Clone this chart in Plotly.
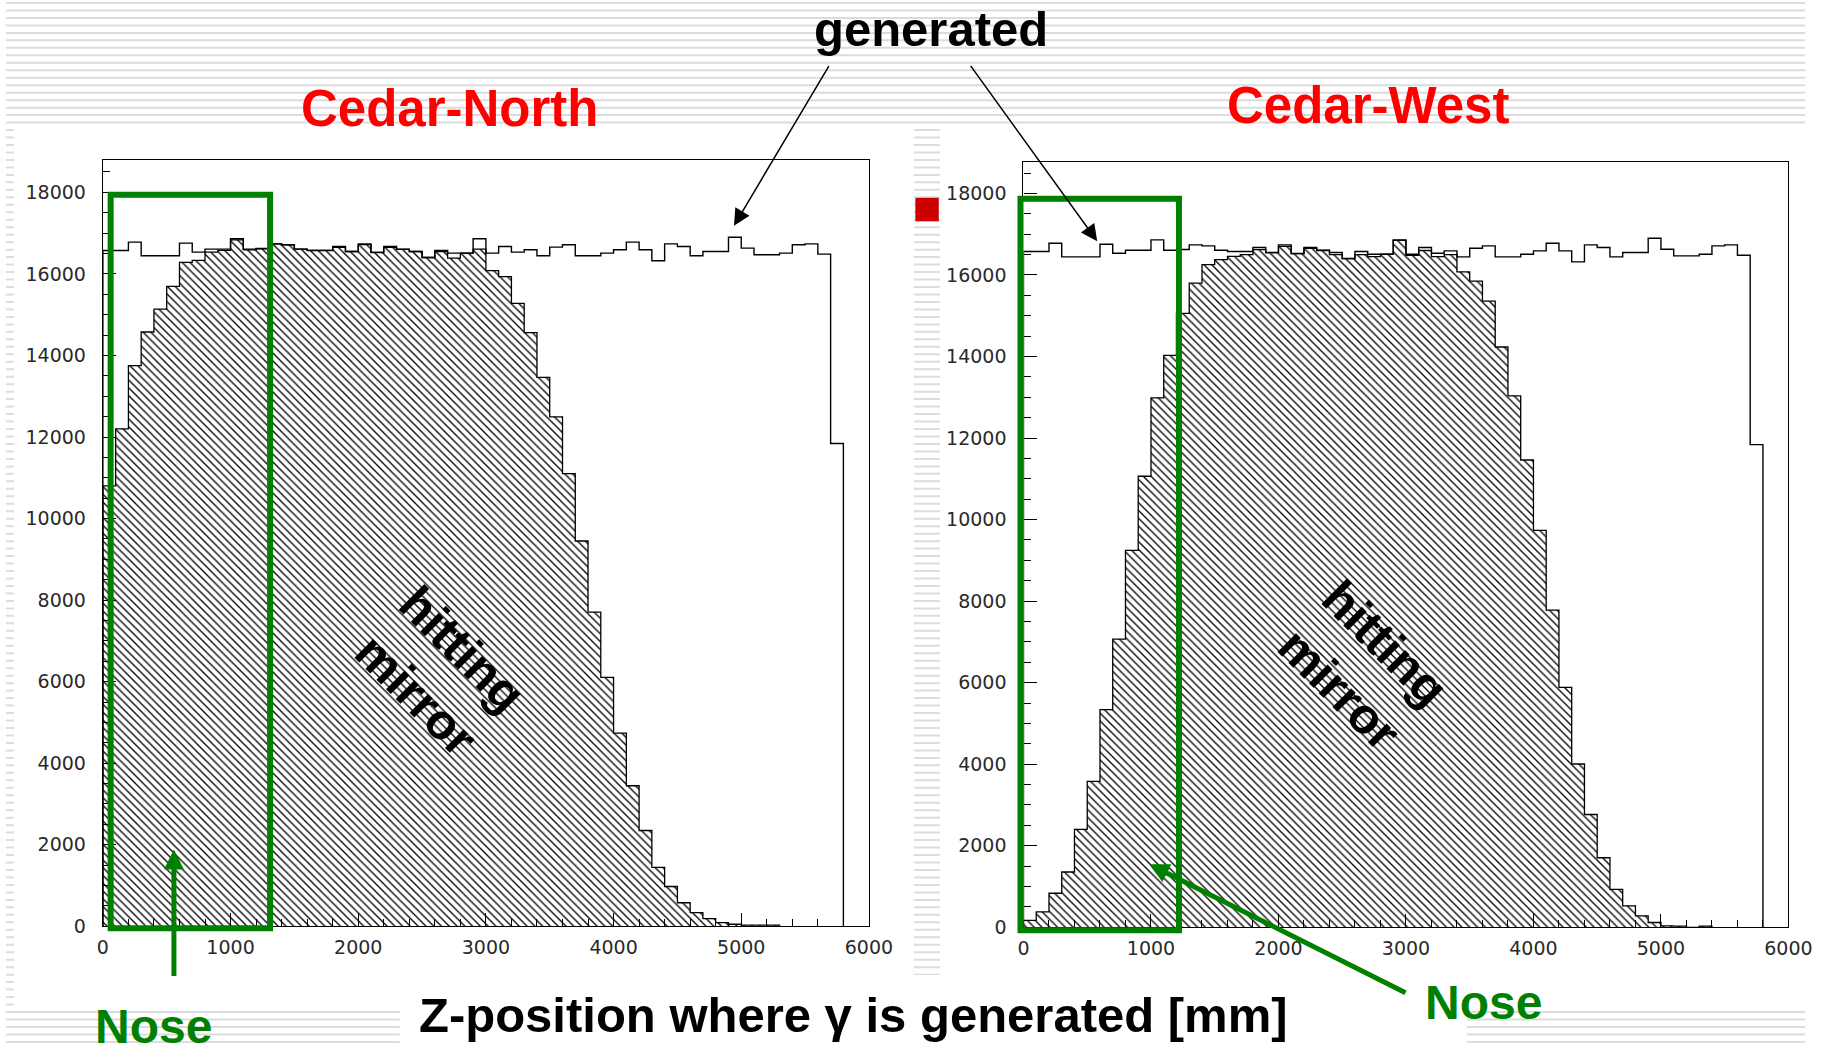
import plotly.graph_objects as go

# ---------------- data (counts per 100 mm bin, starting at z = 0) ----------------
bin_width = 100
generated_counts = [16575, 16575, 16779, 16444, 16444, 16444, 16755, 16534, 16608, 16608,
                    16861, 16608, 16624, 16738, 16714, 16608, 16575, 16575, 16673, 16550,
                    16738, 16526, 16673, 16608, 16550, 16403, 16575, 16510, 16510, 16861,
                    16510, 16673, 16534, 16591, 16444, 16657, 16714, 16444, 16444, 16510,
                    16591, 16779, 16591, 16322, 16738, 16673, 16444, 16550, 16550, 16901,
                    16632, 16469, 16469, 16510, 16714, 16738, 16485, 11840]
north_mirror_counts = [10800, 12200, 13750, 14576, 15138, 15693, 16281, 16330, 16534, 16575,
                       16836, 16591, 16616, 16738, 16714, 16608, 16575, 16575, 16650, 16550,
                       16720, 16526, 16650, 16600, 16550, 16403, 16550, 16387, 16510, 16608,
                       16080, 15934, 15276, 14560, 13465, 12494, 11103, 9450, 7707, 6106,
                       4740, 3447, 2350, 1447, 976, 577, 333, 187, 90, 50,
                       30, 30, 30]
west_mirror_counts = [170, 380, 835, 1356, 2400, 3580, 5340, 7070, 9245, 11063,
                      12986, 14029, 15056, 15798, 16254, 16376, 16458, 16499, 16620, 16550,
                      16700, 16526, 16650, 16600, 16500, 16403, 16500, 16450, 16510, 16850,
                      16480, 16600, 16450, 16500, 16075, 15847, 15358, 14233, 13035, 11462,
                      9734, 7778, 5887, 4005, 2766, 1706, 932, 525, 280, 117,
                      35, 30, 0, 30]
x_ticks = [0, 1000, 2000, 3000, 4000, 5000, 6000]
y_ticks = [0, 2000, 4000, 6000, 8000, 10000, 12000, 14000, 16000, 18000]

# layout designed in 1829x1055 picture pixels; small correction for how the page is captured
W, H = 1829, 1055
SX, OX = 0.987, 2.0
SY, OY = 0.993, -0.5


def fx(x):
    return (x - OX) / SX


def fy(y):
    return (y - OY) / SY


def px(x):
    return fx(x) / W


def py(y):
    return 1 - fy(y) / H


def step_xy(counts):
    edges = [i * bin_width for i in range(len(counts) + 1)]
    xs = [edges[0]] + edges[:-1] + [edges[-1], edges[-1]]
    ys = [0] + list(counts) + [counts[-1], 0]
    return xs, ys


fig = go.Figure()

panels = [("x", "y", north_mirror_counts), ("x2", "y2", west_mirror_counts)]
for xa, ya, mirror in panels:
    mx, my = step_xy(mirror)
    fig.add_trace(go.Scatter(
        x=mx, y=my, xaxis=xa, yaxis=ya, mode="lines", line_shape="hv",
        line=dict(color="black", width=1.3), fill="tozeroy",
        fillcolor="rgba(0,0,0,0)",
        fillpattern=dict(shape="\\", size=5.5, solidity=0.24, fgcolor="black",
                         bgcolor="white", fillmode="replace"),
        hoverinfo="skip", showlegend=False))
    gx, gy = step_xy(generated_counts)
    fig.add_trace(go.Scatter(
        x=gx, y=gy, xaxis=xa, yaxis=ya, mode="lines", line_shape="hv",
        line=dict(color="black", width=1.4), hoverinfo="skip", showlegend=False))

tickfont = dict(family="DejaVu Sans", size=19, color="#2a2a2a")
xcommon = dict(range=[0, 6000], tickvals=x_ticks, ticktext=[str(v) for v in x_ticks],
               ticks="inside", ticklen=13, tickwidth=1, tickcolor="black",
               minor=dict(dtick=200, tick0=0, ticks="inside", ticklen=7, tickcolor="black"),
               showline=True, linecolor="black", linewidth=1.3, mirror=True,
               showgrid=False, zeroline=False, tickfont=tickfont, ticklabelstandoff=4)
ycommon = dict(tickvals=y_ticks, ticktext=[str(v) for v in y_ticks],
               ticks="inside", ticklen=13, tickwidth=1, tickcolor="black",
               minor=dict(dtick=500, tick0=0, ticks="inside", ticklen=7, tickcolor="black"),
               showline=True, linecolor="black", linewidth=1.3, mirror=True,
               showgrid=False, zeroline=False, tickfont=tickfont, ticklabelstandoff=12)

fig.update_layout(
    width=W, height=H, margin=dict(l=0, r=0, t=0, b=0, pad=0),
    paper_bgcolor="white", plot_bgcolor="rgba(0,0,0,0)",
    xaxis=dict(domain=[px(99.2), px(867.9)], anchor="y", **xcommon),
    yaxis=dict(domain=[py(929), py(159.8)], anchor="x", range=[0, 18800], **ycommon),
    xaxis2=dict(domain=[px(1023), px(1790.6)], anchor="y2", **xcommon),
    yaxis2=dict(domain=[py(930), py(162.1)], anchor="x2", range=[0, 18770], **ycommon),
)

# ---------------- slide background: grey stripes with white picture areas ----------------
stripe_ys = [2.5 + 7.5 * k for k in range(142) if 0 <= py(2.5 + 7.5 * k) <= 1]
stripe_path = "".join(f"M0,{py(s)} L1,{py(s)} " for s in stripe_ys)
shapes = [dict(type="path", path=stripe_path, xref="paper", yref="paper",
               line=dict(color="#dcdcdc", width=2), layer="below")]
for (x0, y0, x1, y1) in [(10, 128, 913, 1011), (939, 128, 1829, 1014), (397, 978, 1468, 1055)]:
    shapes.append(dict(type="rect", xref="paper", yref="paper", x0=px(x0), x1=min(px(x1), 1.0),
                       y0=max(py(y1), 0.0), y1=py(y0), fillcolor="white", line=dict(width=0),
                       layer="below"))
# red bullet square
shapes.append(dict(type="rect", xref="paper", yref="paper", x0=px(914.5), x1=px(938),
                   y0=py(221.6), y1=py(198), fillcolor="#cc0000", line=dict(width=0)))
# green "Nose" boxes
for (x0, y0, x1, y1) in [(107, 195, 267, 931), (1020, 199, 1179, 933)]:
    shapes.append(dict(type="rect", xref="paper", yref="paper", x0=px(x0), x1=px(x1),
                       y0=py(y1), y1=py(y0), line=dict(color="#008000", width=6),
                       fillcolor="rgba(0,0,0,0)"))
fig.update_layout(shapes=shapes)

bold = "Liberation Sans"
annotations = [
    dict(text="generated", x=px(930), y=py(29), font=dict(family=bold, size=49, color="black", weight="bold")),
    dict(text="Cedar-North", x=px(448), y=py(108), font=dict(family=bold, size=51, color="#ff0000", weight="bold")),
    dict(text="Cedar-West", x=px(1369), y=py(105), font=dict(family=bold, size=51, color="#ff0000", weight="bold")),
    dict(text="hitting<br>mirror", x=px(437), y=py(674), textangle=45,
         font=dict(family=bold, size=50, color="black", weight="bold")),
    dict(text="hitting<br>mirror", x=px(1363), y=py(668), textangle=45,
         font=dict(family=bold, size=50, color="black", weight="bold")),
    dict(text="Nose", x=px(150), y=py(1030), font=dict(family=bold, size=48, color="#008000", weight="bold")),
    dict(text="Nose", x=px(1485), y=py(1005), font=dict(family=bold, size=48, color="#008000", weight="bold")),
    dict(text="Z-position where γ is generated [mm]", x=px(852), y=py(1018),
         font=dict(family=bold, size=49, color="black", weight="bold")),
]
for a in annotations:
    a.update(xref="paper", yref="paper", showarrow=False, xanchor="center", yanchor="middle")

arrows = [
    # (head_x, head_y, tail_x, tail_y, color, width, size)
    (732.5, 226, 827, 66, "black", 1.5, 2.2),
    (1097, 241.5, 971, 66, "black", 1.5, 2.2),
    (170.5, 852, 170.5, 979, "#008000", 5, 0.8),
    (1149, 866.7, 1403.6, 995, "#008000", 5, 0.8),
]
for hx, hy, tx, ty, col, w, s in arrows:
    annotations.append(dict(text="", x=px(hx), y=py(hy), xref="paper", yref="paper",
                            ax=fx(tx) - fx(hx), ay=fy(ty) - fy(hy), showarrow=True, arrowhead=2,
                            arrowsize=s, arrowwidth=w, arrowcolor=col))
fig.update_layout(annotations=annotations)

fig.write_html("out.html")
